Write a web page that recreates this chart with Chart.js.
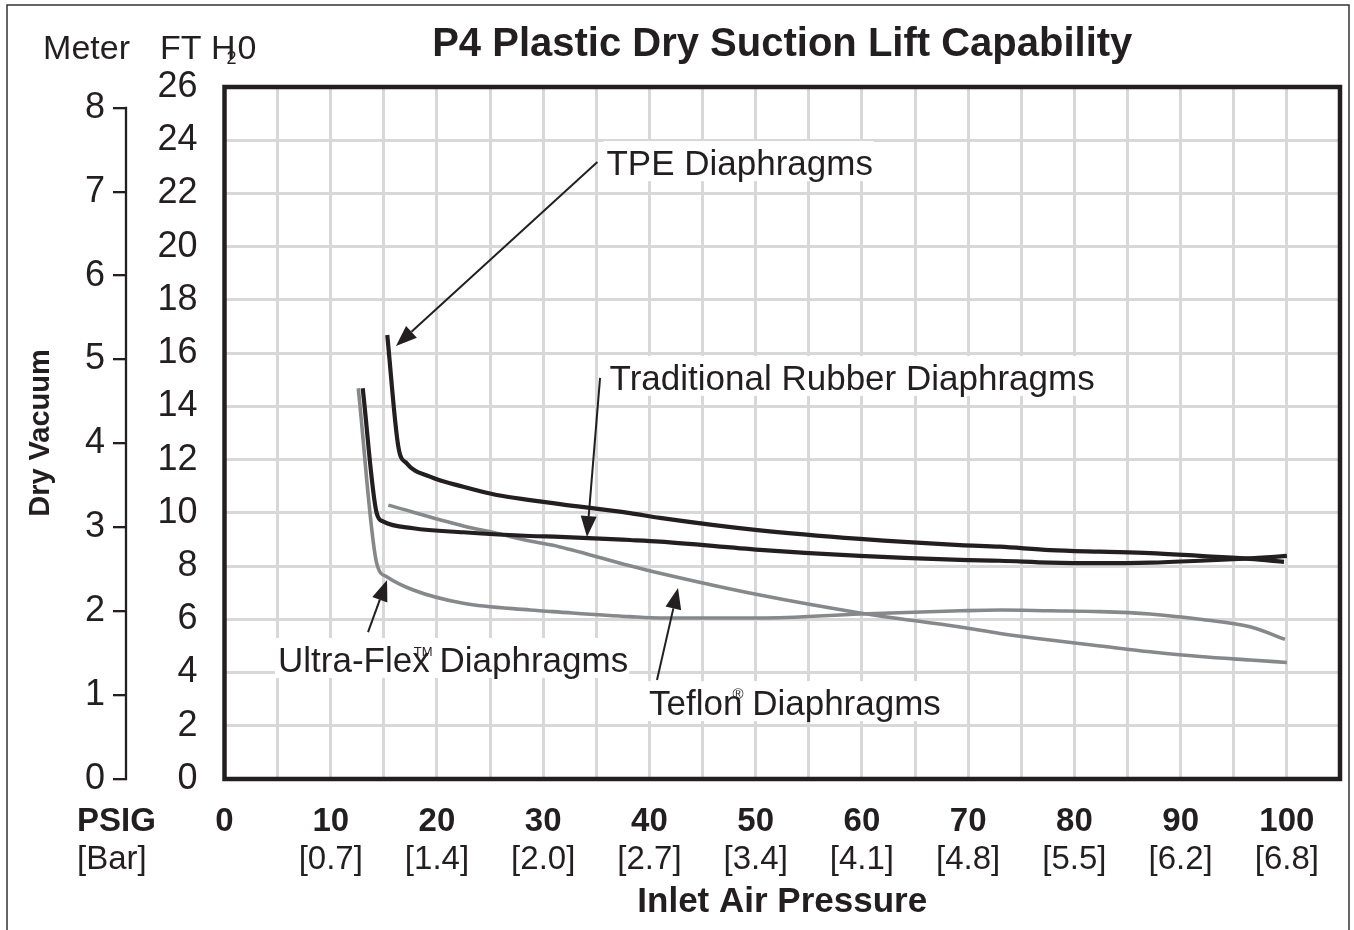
<!DOCTYPE html>
<html>
<head>
<meta charset="utf-8">
<script src="https://cdn.jsdelivr.net/npm/chart.js@4.4.1/dist/chart.umd.min.js"></script>
<style>
  html, body { margin: 0; padding: 0; background: #fff; }
  #wrap { width: 1354px; height: 930px; }
</style>
</head>
<body>
<div id="wrap"><canvas id="liftChart" width="1354" height="930"></canvas></div>
<script>
// ── axis labels ───────────────────────────────────────────────
const psigTicks = [0, 10, 20, 30, 40, 50, 60, 70, 80, 90, 100];
const barTicks = ['', '[0.7]', '[1.4]', '[2.0]', '[2.7]', '[3.4]', '[4.1]', '[4.8]', '[5.5]', '[6.2]', '[6.8]'];

// ── curves: inlet pressure (PSIG) -> dry vacuum (ft H2O) ──────
const tpePsig = [15.32, 16.36, 17.15, 19.34, 22.48, 25.62, 28.76, 31.58, 38.17, 40.99, 50.40, 59.82, 69.23, 72.99, 77.70, 82.41, 87.12, 91.82, 96.53, 99.73];
const tpeFt   = [16.68, 12.49, 11.86, 11.36, 10.98, 10.67, 10.48, 10.33, 9.99, 9.81, 9.34, 9.02, 8.79, 8.73, 8.60, 8.54, 8.49, 8.38, 8.27, 8.16];

const rubberPsig = [13.01, 14.33, 14.95, 17.77, 22.48, 28.76, 31.58, 38.17, 40.99, 50.40, 59.82, 69.23, 72.99, 77.70, 82.41, 87.12, 91.82, 96.53, 100];
const rubberFt   = [14.68, 9.98, 9.67, 9.42, 9.27, 9.13, 9.10, 8.98, 8.92, 8.61, 8.38, 8.23, 8.20, 8.13, 8.11, 8.13, 8.20, 8.29, 8.38];

const ultraPsig = [12.59, 14.33, 15.27, 17.77, 22.48, 28.76, 31.58, 38.17, 40.99, 50.40, 59.82, 69.23, 72.99, 77.70, 82.41, 87.12, 91.82, 96.53, 99.82];
const ultraFt   = [14.68, 8.10, 7.60, 7.10, 6.60, 6.35, 6.27, 6.10, 6.05, 6.05, 6.20, 6.32, 6.35, 6.32, 6.29, 6.20, 6.00, 5.72, 5.25];

const teflonPsig = [15.42, 22.48, 25.62, 28.76, 31.58, 38.17, 40.99, 50.40, 59.82, 69.23, 72.99, 77.70, 82.41, 87.12, 91.82, 96.53, 100];
const teflonFt   = [10.29, 9.51, 9.23, 8.94, 8.72, 8.01, 7.73, 6.91, 6.24, 5.71, 5.47, 5.22, 5.00, 4.78, 4.60, 4.47, 4.38];

// ── callouts (data coordinates) ──────────────────────────────
const notes = [
    { text: 'TPE Diaphragms', x: 35.95, y: 22.69, fromX: 35.1, fromY: 23.18, toX: 16.14, toY: 16.27 },
    { text: 'Traditional Rubber Diaphragms', x: 36.25, y: 14.62, fromX: 35.35, fromY: 15.07, toX: 34.12, toY: 9.09 },
    { text: 'Ultra-Flex Diaphragms', x: 5.04, y: 4.02, fromX: 13.51, fromY: 5.52, toX: 15.30, toY: 7.48, mark: 'TM', after: 'Ultra-Flex' },
    { text: 'Teflon Diaphragms', x: 39.96, y: 2.40, fromX: 40.71, fromY: 3.72, toX: 42.69, toY: 7.18, mark: '®', after: 'Teflon' }
];

const ink = '#231f20';
const greyLine = '#87888a';
const FONT = "'Liberation Sans', Arial, Helvetica, sans-serif";
Chart.defaults.font.family = FONT;
Chart.defaults.color = ink;

function punti(xs, ys) {
    return xs.map((v, i) => ({ x: v, y: ys[i] }));
}

function freccia(ctx, x1, y1, x2, y2) {
    const ang = Math.atan2(y2 - y1, x2 - x1);
    const hl = 21, hw = 8;
    const bx = x2 - hl * Math.cos(ang), by = y2 - hl * Math.sin(ang);
    ctx.beginPath();
    ctx.moveTo(x1, y1);
    ctx.lineTo(bx, by);
    ctx.stroke();
    ctx.beginPath();
    ctx.moveTo(x2, y2);
    ctx.lineTo(bx + hw * Math.sin(ang), by - hw * Math.cos(ang));
    ctx.lineTo(bx - hw * Math.sin(ang), by + hw * Math.cos(ang));
    ctx.closePath();
    ctx.fill();
}

const decorPlugin = {
    id: 'decor',
    afterDatasetsDraw(chart) {
        const { ctx, chartArea: a, scales } = chart;
        const sx = scales.x, sy = scales.y, sm = scales.m;
        ctx.save();

        // callout labels with white backing, then arrows
        ctx.font = '35px ' + FONT;
        ctx.textBaseline = 'alphabetic';
        ctx.textAlign = 'left';
        notes.forEach(n => {
            const px = sx.getPixelForValue(n.x), py = sy.getPixelForValue(n.y);
            const w = ctx.measureText(n.text).width;
            ctx.fillStyle = '#fff';
            ctx.fillRect(px - 3, py - 34, w + 4, 40);
            ctx.fillStyle = ink;
            ctx.fillText(n.text, px, py);
            if (n.mark) {
                const off = ctx.measureText(n.after).width;
                ctx.save();
                ctx.font = (n.mark === 'TM' ? '13px ' : '15px ') + FONT;
                ctx.fillText(n.mark, px + off - (n.mark === 'TM' ? 16 : 10), py - 16);
                ctx.restore();
            }
        });
        ctx.strokeStyle = ink;
        ctx.fillStyle = ink;
        ctx.lineWidth = 2;
        notes.forEach(n => {
            freccia(ctx, sx.getPixelForValue(n.fromX), sy.getPixelForValue(n.fromY),
                sx.getPixelForValue(n.toX), sy.getPixelForValue(n.toY));
        });

        // plot frame
        ctx.lineWidth = 4.5;
        ctx.strokeRect(a.left, a.top, a.right - a.left, a.bottom - a.top);

        // meter axis spine, 0..8 only
        ctx.lineWidth = 2.3;
        ctx.beginPath();
        ctx.moveTo(sm.right - 1, sm.getPixelForValue(8) - 1);
        ctx.lineTo(sm.right - 1, sm.getPixelForValue(0) + 1);
        ctx.stroke();
        ctx.restore();
    },
    afterDraw(chart) {
        const { ctx, chartArea: a, scales } = chart;
        ctx.save();
        ctx.fillStyle = ink;
        ctx.textBaseline = 'alphabetic';

        // column headers
        ctx.font = '34px ' + FONT;
        ctx.textAlign = 'right';
        ctx.fillText('Meter', scales.m.right + 3, a.top - 28);
        ctx.textAlign = 'left';
        const hx = scales.y.left + 33;
        ctx.fillText('FT H', hx, a.top - 28);
        const wH = ctx.measureText('FT H').width;
        ctx.fillText('0', hx + wH + 2, a.top - 28);
        ctx.font = '18px ' + FONT;
        ctx.fillText('2', hx + wH - 9, a.top - 23);

        // row headers for the pressure scales
        ctx.textBaseline = 'middle';
        ctx.font = 'bold 33px ' + FONT;
        ctx.fillText('PSIG', 77, scales.x.top + 43);
        ctx.font = '33px ' + FONT;
        ctx.fillText('[Bar]', 77, scales.x2.top + 21);

        // outer frame
        ctx.strokeStyle = '#333';
        ctx.lineWidth = 1.5;
        ctx.strokeRect(7, 5, 1342, 950);
        ctx.restore();
    }
};

const ctx = document.getElementById('liftChart').getContext('2d');
const liftChart = new Chart(ctx, {
    type: 'line',
    data: {
        datasets: [
            { label: 'TPE Diaphragms', data: punti(tpePsig, tpeFt), borderColor: ink, borderWidth: 4.2 },
            { label: 'Traditional Rubber Diaphragms', data: punti(rubberPsig, rubberFt), borderColor: ink, borderWidth: 4.2 },
            { label: 'Ultra-Flex Diaphragms', data: punti(ultraPsig, ultraFt), borderColor: greyLine, borderWidth: 3.6 },
            { label: 'Teflon Diaphragms', data: punti(teflonPsig, teflonFt), borderColor: greyLine, borderWidth: 3.6 }
        ]
    },
    options: {
        responsive: false,
        animation: false,
        layout: { padding: { left: 0, right: 14, top: 0, bottom: 0 } },
        elements: {
            point: { radius: 0 },
            line: { cubicInterpolationMode: 'monotone', fill: false }
        },
        plugins: {
            legend: { display: false },
            tooltip: { enabled: false },
            title: {
                display: true,
                text: 'P4 Plastic Dry Suction Lift Capability',
                fullSize: false,
                color: ink,
                font: { size: 40, weight: 'bold' },
                padding: { top: 21, bottom: 18 }
            }
        },
        scales: {
            x: {
                type: 'linear',
                position: 'bottom',
                min: 0, max: 105,
                afterFit: s => { s.height = 60; s.paddingLeft = 0; s.paddingRight = 0; },
                grid: { color: '#d8d8d8', lineWidth: 3, drawTicks: false },
                border: { display: false },
                ticks: {
                    stepSize: 5, autoSkip: false, maxRotation: 0, padding: 26,
                    font: { size: 33, weight: 'bold', lineHeight: 1 },
                    callback: v => psigTicks.includes(v) ? String(v) : ''
                }
            },
            x2: {
                type: 'linear',
                position: 'bottom',
                weight: 1,
                min: 0, max: 105,
                afterFit: s => { s.height = 91; s.paddingLeft = 0; s.paddingRight = 0; },
                grid: { display: false, drawTicks: false },
                border: { display: false },
                ticks: {
                    stepSize: 5, autoSkip: false, maxRotation: 0, padding: 4,
                    font: { size: 33, lineHeight: 1 },
                    callback: v => { const i = psigTicks.indexOf(v); return i >= 0 ? barTicks[i] : ''; }
                },
                title: {
                    display: true,
                    text: 'Inlet Air Pressure',
                    font: { size: 35, weight: 'bold' },
                    padding: { top: 0, bottom: 7 }
                }
            },
            y: {
                position: 'left',
                min: 0, max: 26,
                afterFit: s => { s.width = 97.5; },
                grid: { color: '#d8d8d8', lineWidth: 3, drawTicks: false },
                border: { display: false },
                ticks: { stepSize: 2, padding: 27, font: { size: 36 } }
            },
            m: {
                position: 'left',
                weight: 1,
                min: 0, max: 8.248,
                afterFit: s => { s.width = 127; },
                grid: { drawOnChartArea: false, drawTicks: true, tickLength: 14, color: ink, lineWidth: 2.3 },
                border: { display: false },
                ticks: { stepSize: 1, includeBounds: false, padding: 8, font: { size: 36 } },
                title: {
                    display: true,
                    text: 'Dry Vacuum',
                    font: { size: 29, weight: 'bold' },
                    padding: { top: 24, bottom: 0 }
                }
            }
        }
    },
    plugins: [decorPlugin]
});
</script>
</body>
</html>
